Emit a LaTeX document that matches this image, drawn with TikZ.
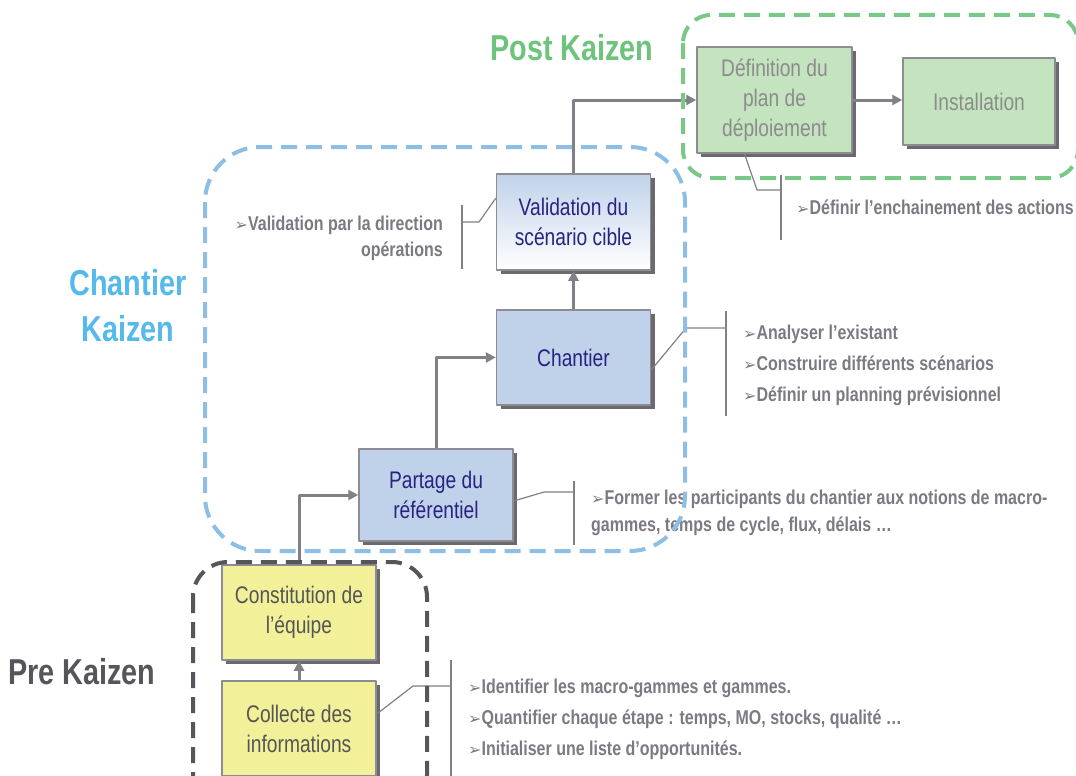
\documentclass[tikz,border=0pt]{standalone}
\usepackage{fontspec}
\setmainfont{Liberation Sans}[FakeStretch=0.8]
\newfontfamily\dejavu{DejaVu Sans}
\usetikzlibrary{arrows.meta,shadows}

\definecolor{bordgris}{RGB}{140,140,146}
\definecolor{ombre}{RGB}{105,105,110}
\definecolor{fleche}{RGB}{128,128,134}
\definecolor{textegris}{RGB}{122,122,130}
\definecolor{vertclair}{RGB}{196,227,191}
\definecolor{textevert}{RGB}{140,140,140}
\definecolor{bleuclair}{RGB}{192,210,234}
\definecolor{textebleu}{RGB}{40,35,130}
\definecolor{jauneclair}{RGB}{242,240,152}
\definecolor{textejaune}{RGB}{85,85,88}
\definecolor{cadrevert}{RGB}{122,200,135}
\definecolor{titrevert}{RGB}{110,195,125}
\definecolor{cadrebleu}{RGB}{140,190,230}
\definecolor{titrebleu}{RGB}{85,185,235}
\definecolor{cadregris}{RGB}{85,85,90}

\newcommand\puce{{\dejavu\fontsize{16}{16}\selectfont ➢}}

\begin{document}
\begin{tikzpicture}[x=1pt, y=-1pt, line join=round,
	etape/.style={draw=bordgris, line width=1.5pt, minimum width=154pt, minimum height=95pt, inner sep=0pt, align=center, font=\fontsize{24}{30}\selectfont, drop shadow={shadow xshift=4pt, shadow yshift=-4pt, fill=ombre, opacity=1}},
	vert/.style={etape, fill=vertclair, text=textevert},
	bleu/.style={etape, fill=bleuclair, text=textebleu},
	jaune/.style={etape, fill=jauneclair, text=textejaune},
	flux/.style={draw=fleche, line width=3pt, -{Triangle[length=10pt,width=10pt]}},
	renvoi/.style={draw=fleche, line width=1.2pt},
	puces/.style={text=textegris, inner sep=0pt, align=left, font=\bfseries\fontsize{20}{31}\selectfont},
	cadre/.style={line width=4pt, dash pattern=on 16pt off 9pt},
	titre/.style={font=\bfseries\fontsize{36}{46}\selectfont, align=center}]
	\useasboundingbox (0,0) rectangle (1076,776);
	% Etapes
	\node[vert, minimum width=155pt, minimum height=106pt] (def) at (774.5,100) {Définition du\\plan de\\déploiement};
	\node[vert, minimum width=152pt, minimum height=87pt] (inst) at (979,101.5) {Installation};
	\node[bleu, fill=none, top color=bleuclair, bottom color=white, minimum height=96pt] (valid) at (573.5,222) {Validation du\\scénario cible};
	\node[bleu] (chant) at (573.5,357.5) {Chantier};
	\node[bleu, minimum height=92pt] (part) at (436,495) {Partage du\\référentiel};
	\node[jaune] (const) at (299,612.5) {Constitution de\\l’équipe};
	\node[jaune] (coll) at (299,728.5) {Collecte des\\informations};
	% Enchainement
	\draw[flux] (coll) -- (const);
	\draw[flux] (const.north) |- (part.west);
	\draw[flux] (part.north) |- (chant.west);
	\draw[flux] (chant) -- (valid);
	\draw[flux] (valid.north) |- (def.west);
	\draw[flux] (def.east) -- (def.east -| inst.west);
	% Renvois
	\coordinate (vcoude) at (479,222);
	\coordinate (ccoude) at (686,328);
	\coordinate (pcoude) at (544,492);
	\coordinate (ocoude) at (413,686);
	\coordinate (dcoude) at (757,190);
	\draw[renvoi] ([yshift=-25pt]valid.north west) -- (vcoude) -- (462,222);
	\draw[renvoi] (462,205) -- (462,269);
	\draw[renvoi] ([yshift=-12.5pt]chant.east) -- (ccoude) -- (726,328);
	\draw[renvoi] (726,311) -- (726,416);
	\draw[renvoi] ([yshift=-6pt]part.east) -- (pcoude) -- (574,492);
	\draw[renvoi] (574,481) -- (574,545);
	\draw[renvoi] ([yshift=14.5pt]coll.east) -- (ocoude) -- (451,686);
	\draw[renvoi] (451,660) -- (451,780);
	\draw[renvoi] ([xshift=-30pt]def.south) -- (dcoude) -- (781,190);
	\draw[renvoi] (781,175) -- (781,240);
	% Textes
	\node[puces, anchor=east, align=right, font=\bfseries\fontsize{20}{26}\selectfont] (tvalid) at (443,238) {\puce Validation par la direction\\opérations};
	\node[puces, anchor=west] (tchant) at (743,365) {\puce Analyser l’existant\\\puce Construire différents scénarios\\\puce Définir un planning prévisionnel};
	\node[puces, anchor=west, font=\bfseries\fontsize{20}{27}\selectfont] (tpart) at (591,513) {\puce Former les participants du chantier aux notions de macro-\\gammes, temps de cycle, flux, délais …};
	\node[puces, anchor=west] (tcoll) at (468,719) {\puce Identifier les macro-gammes et gammes.\\\puce Quantifier chaque étape : temps, MO, stocks, qualité …\\\puce Initialiser une liste d’opportunités.};
	\node[puces, anchor=west] (tdef) at (796,207) {\puce Définir l’enchainement des actions};
	% Phases
	\draw[cadre, draw=cadrevert, rounded corners=28pt] (683,15) rectangle (1078,178);
	\draw[cadre, draw=cadrebleu, rounded corners=55pt] (205,147) rectangle (685,551);
	\draw[cadre, draw=cadregris, rounded corners=35pt] (193,562) rectangle (427,810);
	\node[titre, text=titrevert] (post) at (572,48) {Post Kaizen};
	\node[titre, text=titrebleu] (chantk) at (128,306) {Chantier\\Kaizen};
	\node[titre, text=cadregris] (pre) at (82,672) {Pre Kaizen};
\end{tikzpicture}
\end{document}
